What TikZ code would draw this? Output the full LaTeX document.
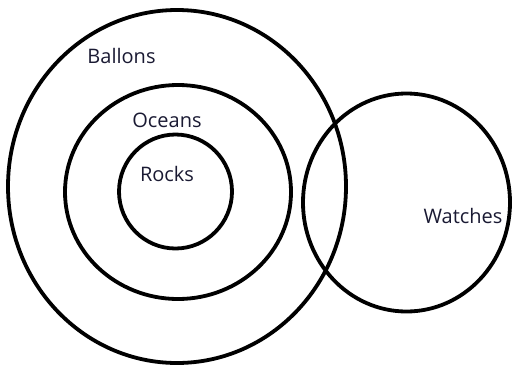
\documentclass[tikz,border=0pt]{standalone}
\usepackage{fontspec}
\setmainfont{Open Sans}
\usetikzlibrary{positioning}
\definecolor{ringBlack}{HTML}{000000}
\definecolor{labelDark}{HTML}{1A1A33}

\begin{document}
\begin{tikzpicture}[
    x=1pt, y=-1pt,
    ring/.style={draw=ringBlack, line width=3.8pt},
    lbl/.style={font=\fontsize{20}{24}\selectfont\color{labelDark},
                inner sep=0pt, anchor=base},
  ]
    \useasboundingbox (0,0) rectangle (516,367);

    % Ballons
    \coordinate (balC) at (177,186.5);
    \draw[ring] (balC) ellipse [x radius=169, y radius=176.5];
    \node[lbl] (bal) at (121.5,63) {Ballons};

    % Oceans
    \coordinate (ocnC) at (178,192);
    \draw[ring] (ocnC) ellipse [x radius=113, y radius=107];
    \node[lbl] (ocn) at (167,127) {Oceans};

    % Rocks
    \coordinate (rckC) at (175.5,191.5);
    \draw[ring] (rckC) ellipse [x radius=56.5, y radius=57];
    \node[lbl] (rck) at (167,181) {Rocks};

    % Watches
    \coordinate (wtcC) at (406.5,202.5);
    \draw[ring] (wtcC) ellipse [x radius=103.5, y radius=109];
    \node[lbl] (wtc) at (463,223) {Watches};
  \end{tikzpicture}
\end{document}
